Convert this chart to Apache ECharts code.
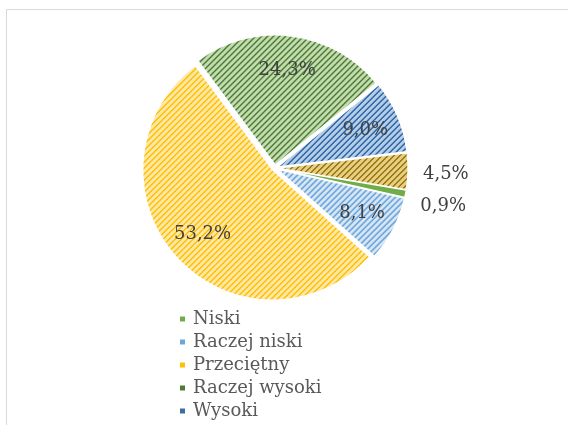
<!DOCTYPE html>
<html>
<head>
<meta charset="utf-8">
<script src="https://cdn.jsdelivr.net/npm/echarts@6/dist/echarts.min.js"></script>
<style>
  html, body { margin: 0; padding: 0; background: #fff; overflow: hidden; }
  #chart { width: 568px; height: 480px; }
</style>
</head>
<body>
<div id="chart"></div>
<script>
// dane wykresu
var categories = ['Niski', 'Raczej niski', 'Przeciętny', 'Raczej wysoki', 'Wysoki', 'Brak odpowiedzi'];
var values = [0.9, 8.1, 53.2, 24.3, 9.0, 4.5];

// kolory: tlo wzoru, kolor paskow, kolor ikonki w legendzie
var bgColors = ['#70ad47', '#d8e7f6', '#ffe8a6', '#c3ddb0', '#b5cfea', '#e6cf80'];
var fgColors = ['#70ad47', '#5b9bd5', '#ffbf00', '#4a7a30', '#2b62a0', '#9a7610'];
var iconColors = ['#70ad47', '#6ea6dc', '#ffc000', '#4e7a3a', '#3a6fa5', '#a07c12'];

// wzor ukosnych paskow (jak w Excelu)
function makePattern(bg, fg) {
    var c = document.createElement('canvas');
    c.width = 6;
    c.height = 6;
    var ctx = c.getContext('2d');
    ctx.fillStyle = bg;
    ctx.fillRect(0, 0, 6, 6);
    ctx.fillStyle = fg;
    for (var x = 0; x < 6; x++) {
        for (var y = 0; y < 6; y++) {
            var k = (x + y) % 6;
            if (k === 0 || k === 5) ctx.fillRect(x, y, 1, 1);
        }
    }
    return { image: c, repeat: 'repeat' };
}

// male wycinki maja etykiety na zewnatrz (przesuniecie w pionie)
var outsideShift = { 'Niski': 11, 'Brak odpowiedzi': 3 };

var pieData = categories.map(function (name, i) {
    return {
        name: name,
        value: values[i],
        selected: true,
        itemStyle: { color: makePattern(bgColors[i], fgColors[i]) }
    };
});

var labelData = categories.map(function (name, i) {
    var item = { name: name, value: values[i], selected: true };
    if (outsideShift[name] !== undefined) {
        item.label = { position: 'outside' };
    }
    return item;
});

var legendData = categories.map(function (name, i) {
    return { name: name, itemStyle: { color: iconColors[i] } };
});

var myChart = echarts.init(document.getElementById('chart'), null, { renderer: 'canvas' });

var fontFamily = '"DejaVu Serif", serif';

var option = {
    animation: false,
    graphic: [{
        type: 'rect',
        shape: { x: 6.5, y: 9.5, width: 620, height: 520 },
        style: { fill: 'none', stroke: '#d9d9d9', lineWidth: 1 },
        silent: true
    }],
    legend: {
        orient: 'vertical',
        left: 173,
        top: 305,
        itemWidth: 7,
        itemHeight: 7,
        itemGap: 5,
        icon: 'rect',
        selectedMode: false,
        textStyle: {
            fontFamily: fontFamily,
            fontSize: 18,
            lineHeight: 18,
            color: '#595959',
            padding: [0, 0, 0, 2]
        },
        data: legendData
    },
    series: [
        {
            name: 'udzial',
            type: 'pie',
            center: [275, 168],
            radius: [0, 130],
            startAngle: -9.5,
            clockwise: true,
            silent: true,
            selectedMode: 'multiple',
            selectedOffset: 3,
            itemStyle: { borderColor: '#ffffff', borderWidth: 1.2 },
            label: { show: false },
            labelLine: { show: false },
            data: pieData
        },
        {
            // przezroczysta warstwa tylko dla etykiet
            name: 'etykiety',
            type: 'pie',
            center: [275, 168],
            radius: [54, 130],
            startAngle: -9.5,
            clockwise: true,
            silent: true,
            selectedMode: 'multiple',
            selectedOffset: 3,
            avoidLabelOverlap: false,
            itemStyle: { color: 'transparent' },
            label: {
                show: true,
                position: 'inside',
                fontFamily: fontFamily,
                fontSize: 18,
                color: '#404040',
                formatter: function (p) {
                    return p.value.toFixed(1).replace('.', ',') + '%';
                }
            },
            labelLine: { show: false, length: 10, length2: 0 },
            labelLayout: function (params) {
                var shift = outsideShift[categories[params.dataIndex]];
                if (shift !== undefined) {
                    return { dy: shift };
                }
            },
            data: labelData
        }
    ]
};

myChart.setOption(option);
</script>
</body>
</html>
